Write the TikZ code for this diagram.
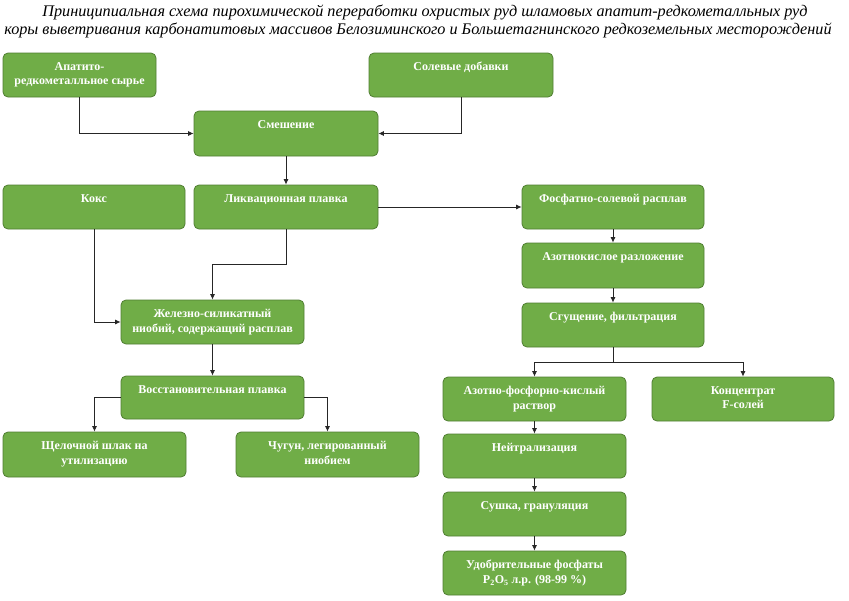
\documentclass[tikz,border=0pt]{standalone}
\usepackage{fontspec}
\setmainfont{Liberation Serif}
\usetikzlibrary{arrows.meta,calc}
\definecolor{boxfill}{HTML}{70AD47}
\definecolor{boxline}{HTML}{507E32}
\tikzset{
  box/.style={draw=boxline, fill=boxfill, rounded corners=5pt, line width=0.8pt, inner sep=0pt},
  boxtext/.style={text=white, font=\bfseries\fontsize{12}{14.5}\selectfont, align=center, anchor=north, inner sep=0pt},
  conn/.style={draw=black!85, line width=0.8pt, -{Latex[length=5.5pt,width=5pt]}},
  title/.style={font=\itshape\fontsize{16.2}{18}\selectfont, inner sep=0pt}
}
\newcommand{\bx}[6]{%
  \node[box, minimum width={#4pt-#2pt}, minimum height={#5pt-#3pt},
        label={[boxtext, yshift=-9.5pt]north:{#6}}] (#1) at ({(#2+#4)/2},{(#3+#5)/2}) {};}
\begin{document}
\begin{tikzpicture}[x=1pt,y=-1pt]
\useasboundingbox[fill=white] (0,0) rectangle (849,600);
\node[title] (t1) at (425,12) {Приниципиальная схема пирохимической переработки охристых руд шламовых апатит-редкометалльных руд};
\node[title] (t2) at (418,30) {коры выветривания карбонатитовых массивов Белозиминского и Большетагнинского редкоземельных месторождений};

\bx{apat}{3}{53}{156}{97}{Апатито-\\редкометалльное сырье}
\bx{salt}{369}{53}{553}{97}{Солевые добавки}
\bx{mix}{194}{111}{378}{156}{Смешение}
\bx{coke}{3}{185}{185}{229}{Кокс}
\bx{liq}{194}{185}{378}{229}{Ликвационная плавка}
\bx{phos}{522}{185}{704}{229}{Фосфатно-солевой расплав}
\bx{nitr}{522}{243}{704}{288}{Азотнокислое разложение}
\bx{thick}{522}{303}{704}{347}{Сгущение, фильтрация}
\bx{sol}{443}{377}{626}{421}{Азотно-фосфорно-кислый\\раствор}
\bx{conc}{652}{377}{834}{421}{Концентрат\\F-солей}
\bx{neut}{443}{434}{626}{478}{Нейтрализация}
\bx{dry}{443}{492}{626}{536}{Сушка, грануляция}
\bx{fert}{443}{551}{626}{595}{Удобрительные фосфаты\\P\textsubscript{2}O\textsubscript{5} л.р. (98-99 \%)}
\bx{fesi}{121}{300}{304}{344}{Железно-силикатный\\ниобий, содержащий расплав}
\bx{red}{121}{376}{304}{419}{Восстановительная плавка}
\bx{slag}{3}{432}{186}{477}{Щелочной шлак на\\утилизацию}
\bx{iron}{236}{432}{419}{477}{Чугун, легированный\\ниобием}

\coordinate (split) at ($(thick.south)+(0,15)$);
\coordinate (bend) at ($(liq.south)+(0,35)$);
\draw[conn] (apat.south) |- (mix.west);
\draw[conn] (salt.south) |- (mix.east);
\draw[conn] (mix.south) -- (liq.north);
\draw[conn] (liq.east) -- (phos.west);
\draw[conn] (phos.south) -- (nitr.north);
\draw[conn] (nitr.south) -- (thick.north);
\draw[conn] (thick.south) -- (split) -| (sol.north);
\draw[conn] (split) -| (conc.north);
\draw[conn] (sol.south) -- (neut.north);
\draw[conn] (neut.south) -- (dry.north);
\draw[conn] (dry.south) -- (fert.north);
\draw[conn] (coke.south) |- (fesi.west);
\draw[conn] (liq.south) -- (bend) -| (fesi.north);
\draw[conn] (fesi.south) -- (red.north);
\draw[conn] (red.west) -| (slag.north);
\draw[conn] (red.east) -| (iron.north);
\end{tikzpicture}
\end{document}
